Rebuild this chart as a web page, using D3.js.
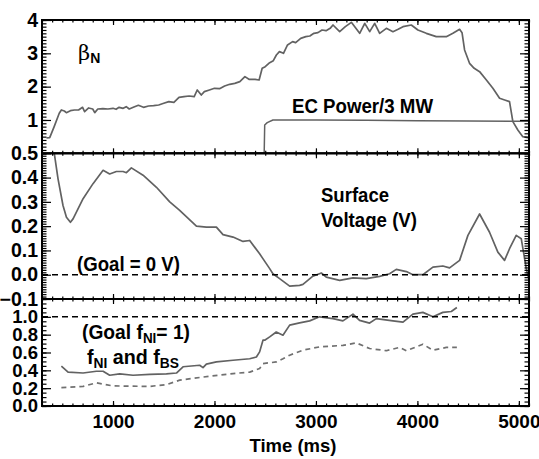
<!DOCTYPE html>
<html><head><meta charset="utf-8">
<script src="https://cdn.jsdelivr.net/npm/d3@7"></script>
<style>body{margin:0;background:#fff}svg{display:block}text{font-family:"Liberation Sans",Arial,sans-serif;font-weight:bold;fill:#000}</style>
</head><body>
<script>
// ---- data ----
const betaT = [344,376,420,470,491,520,540,580,620,660,700,720,760,800,820,850,900,950,1000,1030,1060,1100,1130,1160,1200,1250,1300,1350,1400,1450,1500,1550,1600,1650,1700,1750,1800,1830,1870,1900,1950,2000,2050,2100,2150,2200,2250,2300,2340,2400,2440,2470,2500,2544,2580,2610,2640,2680,2720,2770,2800,2850,2900,2940,2980,3020,3060,3100,3140,3168,3234,3290,3349,3431,3481,3530,3579,3628,3694,3759,3810,3858,3940,4005,4088,4186,4285,4350,4416,4440,4465,4514,4560,4613,4680,4744,4810,4860,4908,4941,4990,5039,5100];
const betaV = [0.46,0.47,0.8,1.2,1.3,1.27,1.22,1.28,1.3,1.3,1.38,1.25,1.36,1.33,1.22,1.33,1.34,1.33,1.35,1.32,1.38,1.35,1.4,1.33,1.38,1.44,1.38,1.42,1.43,1.45,1.5,1.55,1.53,1.68,1.7,1.72,1.7,1.9,1.75,1.85,1.9,1.95,1.94,2.02,2.07,2.1,2.15,2.3,2.22,2.22,2.2,2.55,2.6,2.72,2.78,2.95,3.05,3.0,3.25,3.35,3.32,3.45,3.5,3.52,3.6,3.62,3.7,3.68,3.75,3.85,3.65,3.8,3.93,3.6,3.9,3.65,3.9,3.6,3.75,3.65,3.72,3.8,3.85,3.7,3.6,3.5,3.5,3.6,3.72,3.62,3.1,2.7,2.55,2.45,2.2,1.95,1.65,1.6,1.55,0.95,0.7,0.5,0.46];
const ecT = [300,2490,2495,2520,2576,3000,3500,4000,4500,5100];
const ecV = [0,0,0.85,0.92,1.0,1.0,0.99,0.98,0.97,0.96];
const vsT = [400,458,507,541,580,606,705,803,902,967,1033,1099,1132,1181,1296,1428,1559,1657,1822,1920,2019,2084,2183,2281,2347,2445,2544,2576,2642,2741,2839,2872,2970,3053,3102,3234,3365,3496,3628,3726,3792,3891,3956,4054,4153,4251,4317,4416,4498,4613,4711,4793,4859,4908,4974,5024,5073,5100];
const vsV = [0.56,0.395,0.285,0.237,0.216,0.23,0.313,0.375,0.43,0.415,0.425,0.425,0.42,0.44,0.41,0.36,0.3,0.265,0.2,0.196,0.196,0.165,0.155,0.137,0.141,0.086,0.025,0.004,-0.016,-0.047,-0.044,-0.04,-0.006,0.007,-0.01,-0.023,-0.013,-0.016,-0.007,0.004,0.022,0.013,0.0,0.0,0.031,0.036,0.028,0.059,0.162,0.25,0.175,0.093,0.059,0.107,0.162,0.148,0.025,-0.02];
const fniT = [491,557,705,836,902,967,1066,1197,1362,1526,1625,1690,1854,1887,1920,2019,2183,2347,2413,2445,2478,2495,2544,2609,2675,2741,2839,2938,3036,3168,3266,3365,3430,3529,3595,3759,3858,3956,4054,4153,4251,4334,4389];
const fniV = [0.446,0.38,0.37,0.39,0.39,0.345,0.36,0.345,0.355,0.36,0.37,0.44,0.457,0.43,0.47,0.494,0.513,0.53,0.55,0.607,0.738,0.738,0.775,0.83,0.794,0.907,0.933,0.955,1.0,0.98,0.955,1.03,0.96,0.93,0.98,0.955,0.94,1.03,1.05,1.0,1.05,1.06,1.105];
const fbsT = [491,705,836,1000,1362,1526,1657,1854,2183,2347,2445,2478,2609,2675,2741,2872,3036,3266,3397,3529,3693,3825,3891,4054,4153,4285,4389];
const fbsV = [0.207,0.22,0.26,0.225,0.22,0.24,0.29,0.32,0.364,0.38,0.42,0.476,0.494,0.53,0.57,0.626,0.663,0.68,0.708,0.645,0.62,0.657,0.62,0.693,0.626,0.657,0.657];
const xTicks = [1000,2000,3000,4000,5000];
const topTicks = [1,2,3,4];
const midTicks = [-0.1,0,0.1,0.2,0.3,0.4,0.5];
const botTicks = [0,0.2,0.4,0.6,0.8,1.0];

// ---- layout ----
const W=539,H=459,L=42,R=529;
const svg=d3.select("body").append("svg").attr("width",W).attr("height",H);
const x=d3.scaleLinear().domain([300,5100]).range([L,R]);
const panels=[
 {y:d3.scaleLinear().domain([0,4]).range([153.3,20]),ticks:topTicks,minor:d3.range(0,4.001,0.1),fmt:d3.format("d"),fs:19.5},
 {y:d3.scaleLinear().domain([-0.1,0.5]).range([299,153.3]),ticks:midTicks,minor:d3.range(-0.1,0.5001,0.01),fmt:d3.format(".1f"),fs:19.5},
 {y:d3.scaleLinear().domain([0,1.2]).range([406,299]),ticks:botTicks,minor:d3.range(0,1.2001,0.05),fmt:d3.format(".1f"),fs:18.5}
];
const gray="#626262";
panels.forEach((p,i)=>{
  const [yb,yt]=p.y.range();
  svg.append("clipPath").attr("id","c"+i).append("rect").attr("x",L).attr("y",yt).attr("width",R-L).attr("height",yb-yt);
  p.g=svg.append("g").attr("clip-path","url(#c"+i+")");
});
function line(p,T,V,opts){
  const data=T.map((t,i)=>[t,V[i]]);
  const path=p.g.append("path").datum(data).attr("fill","none")
   .attr("stroke",opts.c||gray).attr("stroke-width",opts.w||1.7)
   .attr("stroke-linejoin","round")
   .attr("d",d3.line().x(d=>x(d[0])).y(d=>p.y(d[1])));
  if(opts.dash) path.attr("stroke-dasharray",opts.dash);
}
line(panels[0],ecT,ecV,{w:1.5});
line(panels[0],betaT,betaV,{});
line(panels[1],vsT,vsV,{});
line(panels[2],fniT,fniV,{});
line(panels[2],fbsT,fbsV,{dash:"5,4",c:"#707070"});
// goal lines
panels[1].g.append("line").attr("x1",L).attr("x2",R).attr("y1",panels[1].y(0)).attr("y2",panels[1].y(0)).attr("stroke","#000").attr("stroke-width",1.5).attr("stroke-dasharray","6,4");
panels[2].g.append("line").attr("x1",L).attr("x2",R).attr("y1",panels[2].y(1)).attr("y2",panels[2].y(1)).attr("stroke","#000").attr("stroke-width",1.5).attr("stroke-dasharray","6,4");

// axes
const xMinor=d3.range(300,5101,100);
function styleAxis(fs){return g=>{g.select(".domain").remove();g.selectAll("line").attr("stroke","#000").attr("stroke-width",1.2);g.selectAll("text").style("font-size",fs+"px").style("font-family","'Liberation Sans',Arial,sans-serif").style("font-weight","bold");};}
panels.forEach((p,i)=>{
  const [yb,yt]=p.y.range();
  const st=styleAxis(p.fs);
  svg.append("g").attr("transform",`translate(${L},0)`).call(d3.axisLeft(p.y).tickValues(p.minor).tickSize(-4.5).tickFormat("")).call(st);
  svg.append("g").attr("transform",`translate(${L},0)`).call(d3.axisLeft(p.y).tickValues(p.ticks).tickSize(-9).tickPadding(4).tickFormat(p.fmt)).call(st);
  svg.append("g").attr("transform",`translate(${R},0)`).call(d3.axisRight(p.y).tickValues(p.minor).tickSize(-4.5).tickFormat("")).call(st);
  svg.append("g").attr("transform",`translate(${R},0)`).call(d3.axisRight(p.y).tickValues(p.ticks).tickSize(-9).tickFormat("")).call(st);
  svg.append("g").attr("transform",`translate(0,${yb})`).call(d3.axisBottom(x).tickValues(xMinor).tickSize(-2.5).tickFormat("")).call(st);
  svg.append("g").attr("transform",`translate(0,${yt})`).call(d3.axisTop(x).tickValues(xMinor).tickSize(-2.5).tickFormat("")).call(st);
  svg.append("g").attr("transform",`translate(0,${yt})`).call(d3.axisTop(x).tickValues(xTicks).tickSize(-5).tickFormat("")).call(st);
  svg.append("g").attr("transform",`translate(0,${yb})`).call(d3.axisBottom(x).tickValues(xTicks).tickSize(-5).tickPadding(i==2?8.5:0).tickFormat(i==2?d3.format("d"):"")).call(styleAxis(19));
  svg.append("rect").attr("x",L).attr("y",yt).attr("width",R-L).attr("height",yb-yt).attr("fill","none").attr("stroke","#000").attr("stroke-width",2);
});

// labels
function label(xp,yp,fs,len,parts){
  const t=svg.append("text").attr("x",xp).attr("y",yp).style("font-size",fs+"px");
  if(len) t.attr("textLength",len).attr("lengthAdjust","spacingAndGlyphs");
  parts.forEach(pt=>{
    const s=t.append("tspan").text(pt.t);
    if(pt.sub) s.attr("dy",pt.sub).style("font-size",pt.fs+"px");
    if(pt.up) s.attr("dy",pt.up);
  });
  return t;
}
const b=svg.append("text").attr("x",78).attr("y",60).style("font-size","21px").style("font-weight","normal").style("font-family","'DejaVu Serif',serif");
b.append("tspan").text("β");
b.append("tspan").attr("dy",3).style("font-size","14px").style("font-weight","bold").style("font-family","'Liberation Sans',Arial,sans-serif").text("N");
label(292,113,21,141,[{t:"EC Power/3 MW"}]);
label(321,202,21,68,[{t:"Surface"}]);
label(321,227,21,96,[{t:"Voltage (V)"}]);
label(77,271,21,103,[{t:"(Goal = 0 V)"}]);
label(82,339,20,108,[{t:"(Goal f"},{t:"NI",sub:4,fs:14},{t:"= 1)",up:-4}]);
label(87,364,20,92,[{t:"f"},{t:"NI",sub:4,fs:14},{t:" and f",up:-4},{t:"BS",sub:4,fs:14}]);
svg.append("text").attr("x",293).attr("y",452).attr("text-anchor","middle").style("font-size","18.5px").text("Time (ms)");
</script>
</body></html>
